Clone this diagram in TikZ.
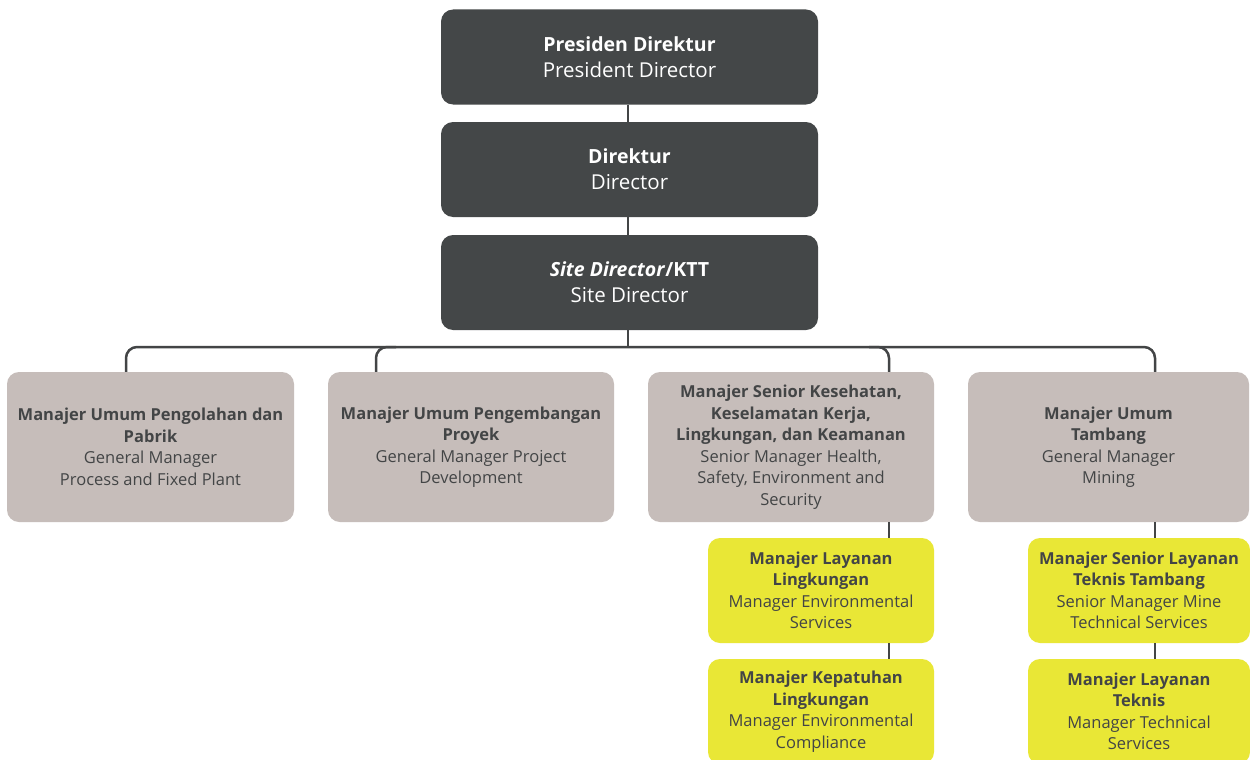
\documentclass[tikz,border=0pt]{standalone}
\usepackage{fontspec}
\setmainfont{Open Sans}
\definecolor{darkbox}{HTML}{444748}
\definecolor{graybox}{HTML}{C6BDBA}
\definecolor{yelbox}{HTML}{E9E736}
\definecolor{txt}{HTML}{434546}
\newcommand{\topreg}[1]{{\fontsize{20.5}{26}\selectfont #1}}
\tikzset{
  topbox/.style={fill=darkbox, rounded corners=12pt, text=white, align=center,
    inner sep=0pt, minimum width=377pt, minimum height=95pt,
    font=\fontsize{19.5}{26}\selectfont},
  midbox/.style={fill=graybox, rounded corners=12pt, text=txt, align=center,
    inner sep=0pt, minimum height=150pt,
    font=\fontsize{16.5}{21.5}\selectfont},
  yelnode/.style={fill=yelbox, rounded corners=12pt, text=txt, align=center,
    inner sep=0pt, minimum height=105pt,
    font=\fontsize{16.5}{21.5}\selectfont},
  conn/.style={draw=txt, line width=2.5pt},
}
\begin{document}
\begin{tikzpicture}[x=1pt,y=-1pt]
\useasboundingbox[fill=white] (0,0) rectangle (1250,760);
\clip (0,0) rectangle (1250,760);
% top chain
\node[topbox] (P) at (629.5,57) {\textbf{Presiden Direktur}\\\topreg{President Director}};
\node[topbox] (D) at (629.5,169.5) {\textbf{Direktur}\\\topreg{Director}};
\node[topbox] (S) at (629.5,282.5) {\textbf{\textit{Site Director}/KTT}\\\topreg{Site Director}};
% second level
\node[midbox, minimum width=287pt] (G1) at (150.5,447) {\textbf{Manajer Umum Pengolahan dan}\\\textbf{Pabrik}\\General Manager\\Process and Fixed Plant};
\node[midbox, minimum width=286pt] (G2) at (471,447) {\textbf{Manajer Umum Pengembangan}\\\textbf{Proyek}\\General Manager Project\\Development};
\node[midbox, minimum width=286pt] (G3) at (791,447) {\textbf{Manajer Senior Kesehatan,}\\\textbf{Keselamatan Kerja,}\\\textbf{Lingkungan, dan Keamanan}\\Senior Manager Health,\\Safety, Environment and\\Security};
\node[midbox, minimum width=281pt] (G4) at (1108.5,447) {\textbf{Manajer Umum}\\\textbf{Tambang}\\General Manager\\Mining};
% third level
\node[yelnode, minimum width=226pt] (Y1) at (821,590.5) {\textbf{Manajer Layanan}\\\textbf{Lingkungan}\\Manager Environmental\\Services};
\node[yelnode, minimum width=226pt] (Y2) at (821,711.5) {\textbf{Manajer Kepatuhan}\\\textbf{Lingkungan}\\Manager Environmental\\Compliance};
\node[yelnode, minimum width=222pt] (Y3) at (1139,590.5) {\textbf{Manajer Senior Layanan}\\\textbf{Teknis Tambang}\\Senior Manager Mine\\Technical Services};
\node[yelnode, minimum width=222pt] (Y4) at (1139,711.5) {\textbf{Manajer Layanan}\\\textbf{Teknis}\\Manager Technical\\Services};
% connectors
\coordinate (bus) at (628,347);
\coordinate (d1) at (126,347);
\coordinate (d2) at (376,347);
\coordinate (d3) at (889,347);
\coordinate (d4) at (1155,347);
\draw[conn] (P.south -| bus) -- (D.north -| bus);
\draw[conn] (D.south -| bus) -- (S.north -| bus);
\draw[conn] (S.south -| bus) -- (bus);
\draw[conn, rounded corners=11pt] (G1.north -| d1) -- (d1) -- (d4) -- (G4.north -| d4);
\draw[conn, rounded corners=11pt] (G2.north -| d2) -- (d2) -- ([xshift=20pt]d2);
\draw[conn, rounded corners=11pt] (G3.north -| d3) -- (d3) -- ([xshift=-20pt]d3);
\draw[conn] (G3.south -| d3) -- (Y1.north -| d3);
\draw[conn] (Y1.south -| d3) -- (Y2.north -| d3);
\draw[conn] (G4.south -| d4) -- (Y3.north -| d4);
\draw[conn] (Y3.south -| d4) -- (Y4.north -| d4);
\end{tikzpicture}
\end{document}
